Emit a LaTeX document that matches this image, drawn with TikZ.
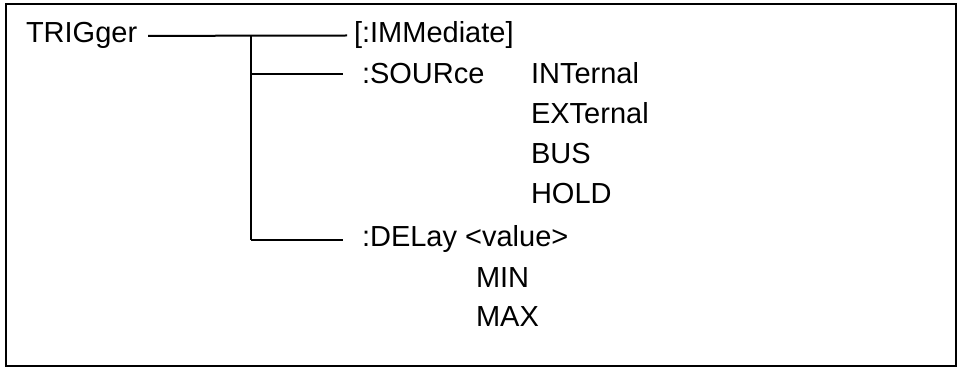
\documentclass[tikz,border=0pt]{standalone}
\usepackage{fontspec}
\setmainfont{Liberation Sans}
\begin{document}
\begin{tikzpicture}[x=0.5pt,y=-0.5pt,line width=1pt,
    cmd/.style={anchor=base west,inner sep=0pt,font=\fontsize{14.5}{17}\selectfont}]
        \def\xroot{25}
        \def\xtrunk{251}
        \def\xsub{361}
        \def\xsrc{530}
        \def\xdel{475}

        \useasboundingbox (0,0) rectangle (961,368);
        \draw (6,4) rectangle (956,366);

        \node[cmd] (trig) at (\xroot,43) {TRIGger};
        \node[cmd] (imm) at (353,43) {[:IMMediate]};
        \node[cmd] (src) at (\xsub,84) {:SOURce};
        \node[cmd] (del) at (\xsub,247) {:DELay <value>};
        \coordinate (trunk) at (\xtrunk,36);

        \foreach \lab [count=\i] in {INTernal,EXTernal,BUS,HOLD}
            \node[cmd] (src\i) at (\xsrc,44+40*\i) {\lab};
        \foreach \lab/\yy in {MIN/287,MAX/326}
            \node[cmd] (del\lab) at (\xdel,\yy) {\lab};

        % tree lines
        \draw ([xshift=5pt]trig.east) -- ([xshift=-3pt]imm.west);
        \draw (trunk) -- (trunk |- del.west);
        \draw (trunk |- src.west) -- ([xshift=-9pt]src.west);
        \draw (trunk |- del.west) -- ([xshift=-9pt]del.west);
    \end{tikzpicture}
\end{document}
